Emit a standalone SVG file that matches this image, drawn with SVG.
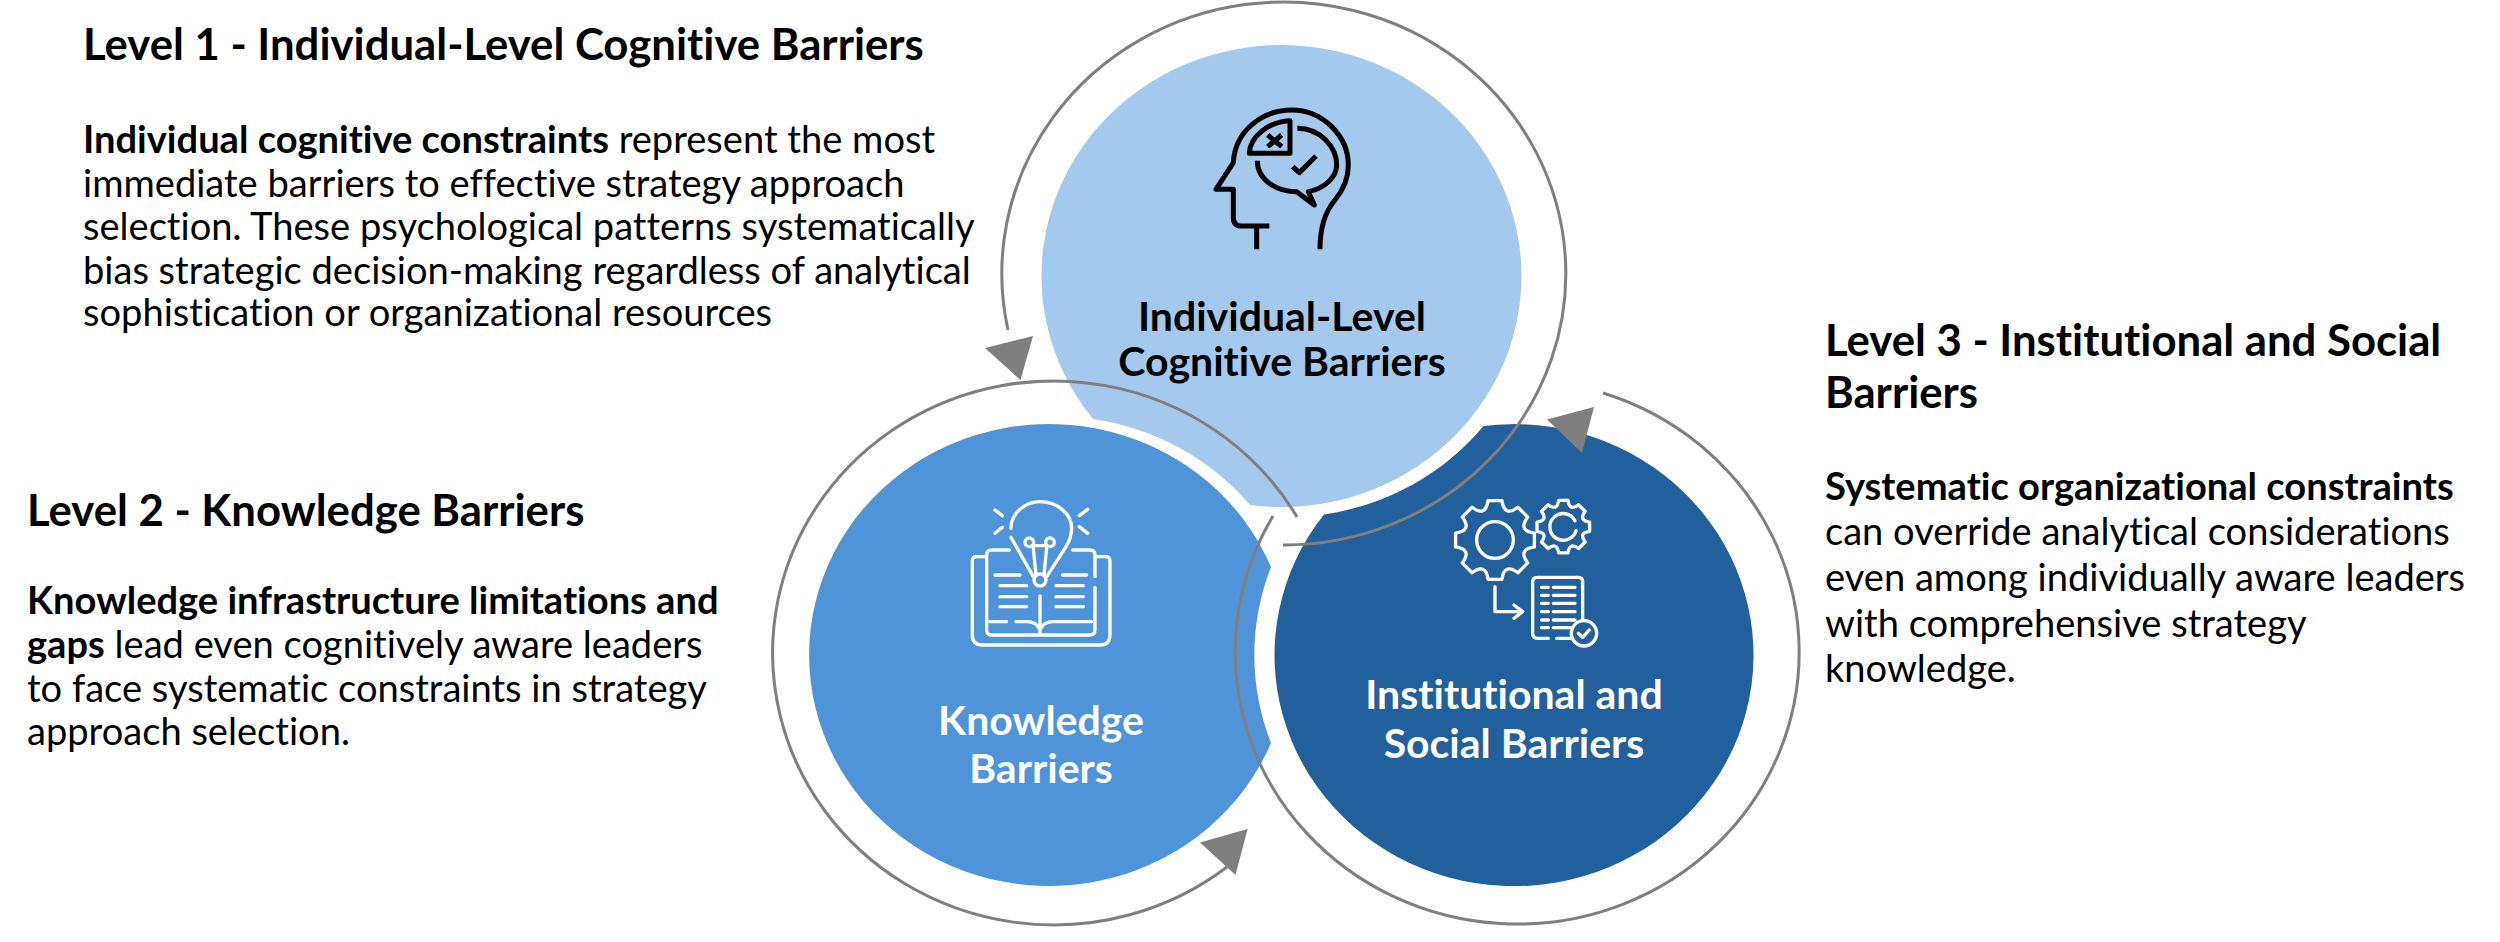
<svg xmlns="http://www.w3.org/2000/svg" width="2500" height="942" viewBox="0 0 2500 942">
<style>
text{font-family:Lato,"Liberation Sans",sans-serif;fill:#000;font-variant-ligatures:none}
.h{font-size:43.700px;font-weight:700}
.b{font-size:38.100px;font-weight:400}
.b tspan{font-weight:700}
.l{font-size:41px;font-weight:700;text-anchor:middle}
.w{fill:#fff}
.arc{fill:none;stroke:#7f7f7f;stroke-width:3}
.tri{fill:#7f7f7f}
.ik{fill:none;stroke:#000;stroke-width:15;stroke-linecap:butt;stroke-linejoin:round}
.iw{fill:none;stroke:#fff;stroke-width:10;stroke-linecap:round;stroke-linejoin:round}
</style>
<defs>
<path id="gear" d="M-20.8-118.2L20.8-118.2Q27.9-67.4 68.8-98.3L98.3-68.8Q67.4-27.9 118.2-20.8L118.2 20.8Q67.4 27.9 98.3 68.8L68.8 98.3Q27.9 67.4 20.8 118.2L-20.8 118.2Q-27.9 67.4 -68.8 98.3L-98.3 68.8Q-67.4 27.9 -118.2 20.8L-118.2 -20.8Q-67.4-27.9 -98.3-68.8L-68.8-98.3Q-27.9-67.4 -20.8-118.2Z"/>
</defs>
<g id="node-individual">
<path d="M1093 419A240 231 0 1 1 1250 505A253 243 0 0 0 1093 419Z" fill="#a5c9ec"/>
<g transform="translate(1180 90) scale(.3333)" class="ik">
<path d="M230 478V408M268 408H185Q160 408 160 383V298H108L160 218C165 120 250 60 335 60C430 60 505 140 505 225C505 265 490 300 465 330C435 365 420 420 420 478"/>
<path d="M330 92V190H208C210 140 265 95 330 92Z"/>
<path d="M263 135L305 170M305 135L263 170"/>
<path d="M352 115C420 115 470 170 470 225C470 260 435 295 385 305L403 345L350 305C290 305 232 270 232 212"/>
<path d="M338 230L358 248L408 198"/>
</g>
<text class="l" x="1282" y="331">Individual-Level</text>
<text class="l" x="1282" y="376">Cognitive Barriers</text>
</g>
<g id="node-knowledge">
<path d="M1271 743A240 231 0 1 1 1271 567A258 249 0 0 0 1271 743Z" fill="#4f94d8"/>
<g transform="translate(950 480) scale(.3333)" class="iw">
<path d="M183 145C183 100 225 65 270 65C320 65 365 100 365 145C365 170 355 190 345 205L290 290M183 172L250 290"/>
<circle cx="270" cy="300" r="18"/><circle cx="238" cy="187" r="13"/><circle cx="300" cy="187" r="13"/>
<path d="M250 205L258 285M290 205L282 285M250 197H290"/>
<path d="M135 90L157 107M135 160L157 142M413 88L388 107M413 160L388 140"/>
<path d="M105 230H80Q67 230 67 243V465Q67 495 97 495H450Q480 495 480 465V243Q480 230 467 230H440"/>
<path d="M178 210H125Q110 210 110 225V450Q110 465 125 465H420Q435 465 435 450V322M435 290V225Q435 210 420 210H368"/>
<path d="M135 285H210M150 317H230M150 350H230M150 380H230M338 285H410M318 317H400M318 350H400M318 380H400"/>
<path d="M270 348V460M120 425H170M198 425H230Q260 425 270 450Q280 425 310 425H425"/>
</g>
<text class="l w" x="1041" y="735" style="fill:#fff">Knowledge</text>
<text class="l w" x="1041" y="783" style="fill:#fff">Barriers</text>
</g>
<g id="node-institutional">
<path d="M1483.5 426A239.5 231 0 1 1 1324 514.5A253 243 0 0 0 1483.5 426Z" fill="#21609c"/>
<g transform="translate(1440 490) scale(.3333)" class="iw">
<use href="#gear" transform="translate(165 150)"/>
<circle cx="165" cy="150" r="55"/>
<use href="#gear" transform="translate(370 110) scale(.667)" style="stroke-width:15"/>
<path d="M405 92A40 40 0 1 0 408 122"/>
<path d="M165 290V365H245M222 345L248 365L222 385"/>
<path d="M428 390V275Q428 262 415 262H292Q278 262 278 275V430Q278 445 292 445H325M350 445H395"/>
<path d="M305 292H325M340 292H405M305 316H325M340 316H405M305 340H325M340 340H405M305 365H325M340 365H405M305 390H325M340 390H405M305 413H325M340 413H395"/>
<circle cx="432" cy="430" r="38"/>
<path d="M415 430L428 442L448 420"/>
</g>
<text class="l w" x="1514" y="709" style="fill:#fff">Institutional and</text>
<text class="l w" x="1514" y="758" style="fill:#fff">Social Barriers</text>
</g>
<g id="connectors">
<path class="arc" d="M1283 545A282 271.500 0 1 0 1008 330"/>
<polygon class="tri" points="1033,336 985,348 1020.500,380"/>
<path class="arc" d="M1297 517A281 272 0 1 0 1227 867"/>
<polygon class="tri" points="1247.600,829 1200,842.500 1235.500,875"/>
<path class="arc" d="M1273 516A282 272 0 1 0 1603 393"/>
<polygon class="tri" points="1594,407 1547,419.500 1582,453"/>
</g>
<g id="text-level-1">
<text class="h" x="83" y="60">Level 1 - Individual-Level Cognitive Barriers</text>
<text class="b" x="83" y="153"><tspan>Individual cognitive constraints</tspan> represent the most</text>
<text class="b" x="83" y="197">immediate barriers to effective strategy approach</text>
<text class="b" x="83" y="240">selection. These psychological patterns systematically</text>
<text class="b" x="83" y="283.500">bias strategic decision-making regardless of analytical</text>
<text class="b" x="83" y="326">sophistication or organizational resources</text>
</g>
<g id="text-level-2">
<text class="h" x="27" y="526">Level 2 - Knowledge Barriers</text>
<text class="b" x="27" y="614"><tspan>Knowledge infrastructure limitations and</tspan></text>
<text class="b" x="27" y="658"><tspan>gaps</tspan> lead even cognitively aware leaders</text>
<text class="b" x="27" y="701.500">to face systematic constraints in strategy</text>
<text class="b" x="27" y="745">approach selection.</text>
</g>
<g id="text-level-3">
<text class="h" x="1825" y="355.500">Level 3 - Institutional and Social</text>
<text class="h" x="1825" y="407.500">Barriers</text>
<text class="b" x="1825" y="499.500">  <tspan>Systematic organizational constraints</tspan></text>
<text class="b" x="1825" y="545">can override analytical considerations</text>
<text class="b" x="1825" y="591">even among individually aware leaders</text>
<text class="b" x="1825" y="637">with comprehensive strategy</text>
<text class="b" x="1825" y="682">knowledge.</text>
</g>
</svg>
